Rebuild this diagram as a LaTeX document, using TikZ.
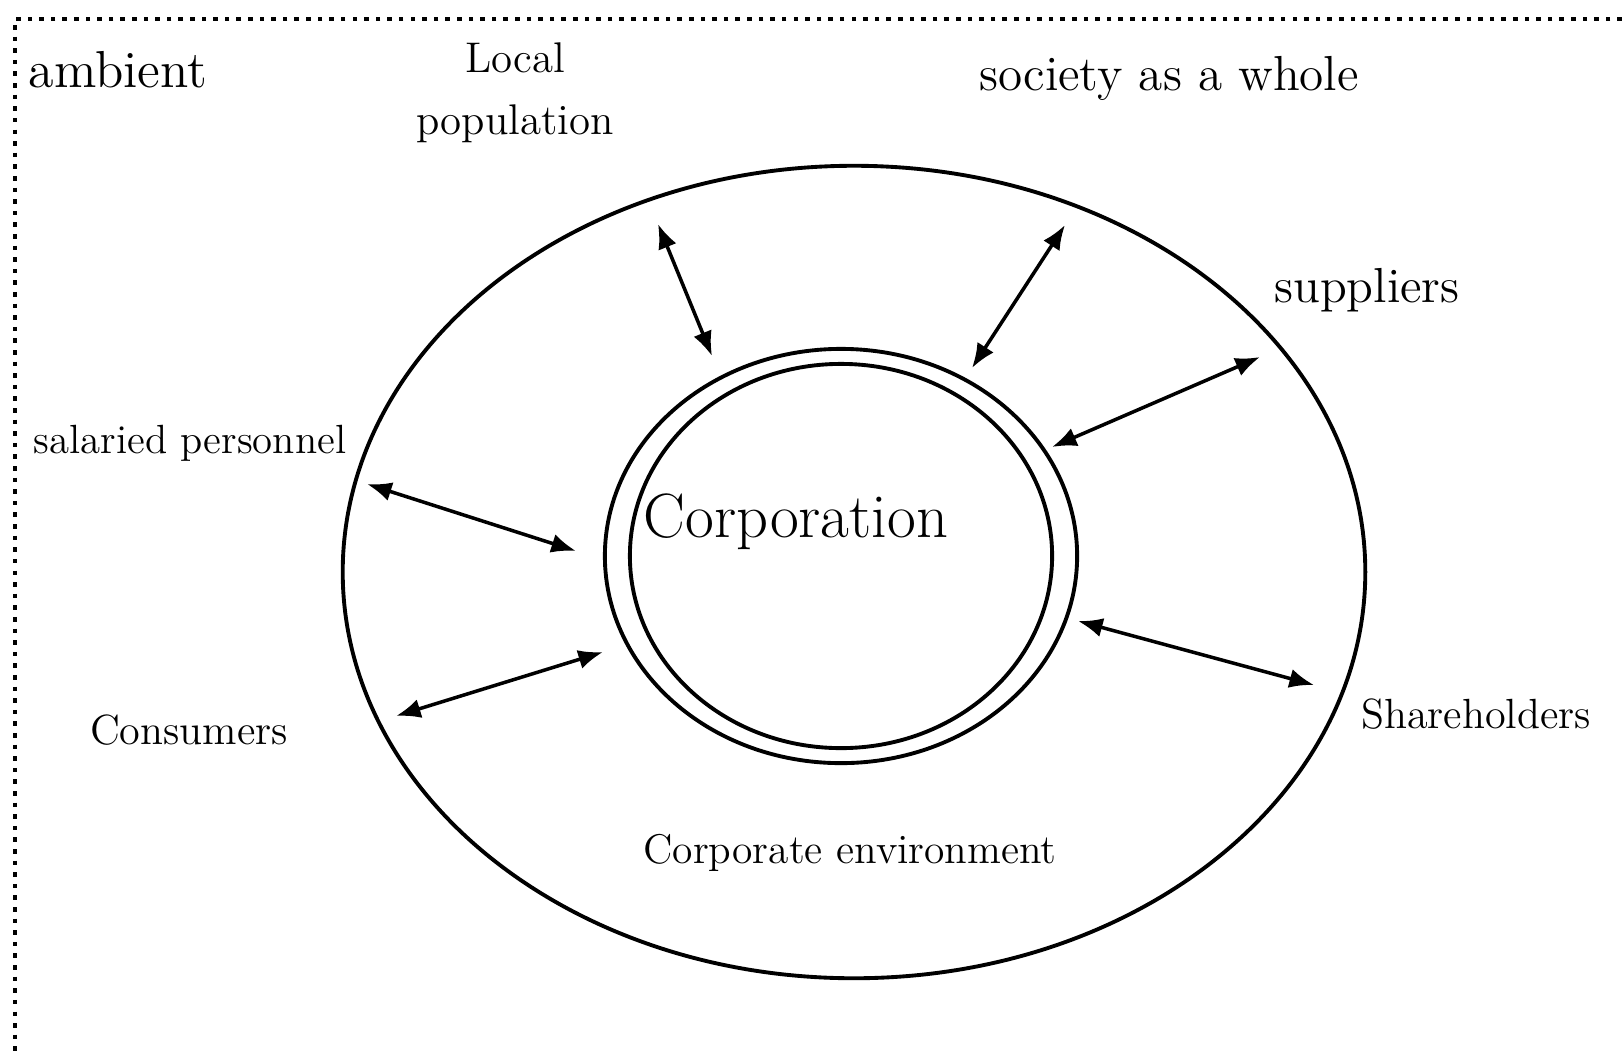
\documentclass[tikz,border=0pt]{standalone}
\usetikzlibrary{
  arrows.meta,
}

\tikzset{
  label/.style={inner sep=0pt, font=\fontsize{14}{17}\selectfont},
  small/.style={inner sep=0pt, font=\fontsize{12}{15}\selectfont},
  ring/.style={line width=1.1pt},
  link/.style={line width=1pt, {Latex[length=7pt,width=5.5pt]}-{Latex[length=7pt,width=5.5pt]}},
}

\begin{document}
\begin{tikzpicture}[x=0.01cm, y=-0.01cm]
\useasboundingbox (0,0) rectangle (1622,1054);
\draw[line width=1.3pt, dotted] (1622,19) -- (15,19) -- (15,1054);

\draw[ring] (854,572) ellipse[x radius=5.11cm, y radius=4.06cm];
\draw[ring] (841,556) ellipse[x radius=2.36cm, y radius=2.07cm];
\draw[ring] (841,556) ellipse[x radius=2.11cm, y radius=1.92cm];

\node[label, anchor=west, font=\fontsize{14.8}{17}\selectfont] (ambient) at (28,70) {ambient};
\node[small, align=center, font=\fontsize{12.2}{17.6}\selectfont] (local) at (515,93) {Local\\population};
\node[label] (society) at (1169,78) {society as a whole};
\node[label] (suppliers) at (1367,290) {suppliers};
\node[small, font=\fontsize{11.6}{14}\selectfont] (salaried) at (190,443) {salaried personnel};
\node[inner sep=0pt, font=\fontsize{17.8}{21}\selectfont] (corp) at (796,522) {Corporation};
\node[small] (consumers) at (189,730) {Consumers};
\node[small] (share) at (1476,714) {Shareholders};
\node[small, font=\fontsize{11.8}{14}\selectfont] (env) at (850,853) {Corporate environment};

\foreach \ax/\ay/\bx/\by [count=\i] in {
  658/224/712/356, 1065/225/972/368, 1260/357/1052/447,
  367/484/576/551, 396/716/603/652, 1314/685/1078/621} {
  \coordinate (out\i) at (\ax,\ay);
  \coordinate (in\i) at (\bx,\by);
  \draw[link] (out\i) -- (in\i);
}
\end{tikzpicture}
\end{document}
